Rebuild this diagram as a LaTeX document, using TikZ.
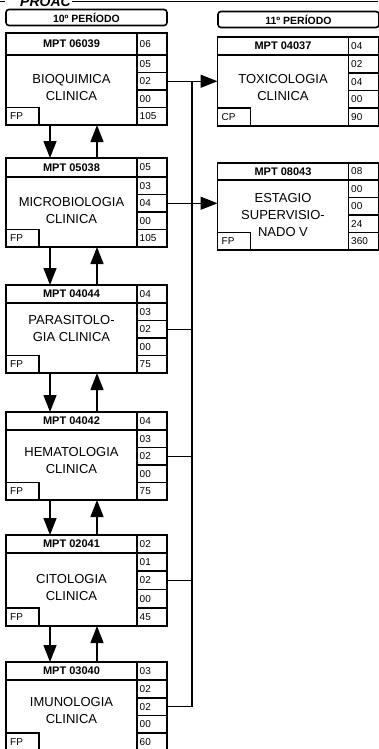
\documentclass[tikz,border=0pt]{standalone}
\usepackage{fontspec}
\setmainfont{Liberation Sans}
\usetikzlibrary{arrows.meta}
\tikzset{
 box/.style={draw, line width=1.6pt, inner sep=0pt, outer sep=0pt},
 boxline/.style={line width=1.6pt},
 conn/.style={line width=1.4pt},
 arr/.style={conn, -{Triangle[length=17pt,width=13pt]}},
 codetxt/.style={font=\bfseries\fontsize{11}{12}\selectfont, inner sep=0pt},
 numtxt/.style={font=\fontsize{10}{11}\selectfont, inner sep=0pt, anchor=west},
 titletxt/.style={font=\fontsize{13}{17}\selectfont, align=center, inner sep=0pt},
 phead/.style={draw, line width=1.6pt, rounded corners=3pt, minimum width=161pt, minimum height=16pt, inner sep=0pt, font=\bfseries\fontsize{10.5}{12}\selectfont},
}
% #1 name, #2 left x, #3 top, #4 bottom, #5 header height, #6 code, #7 cells, #8 fp label
\newcommand\course[8]{%
  \pgfmathsetmacro\crsT{#3}%
  \pgfmathsetmacro\crsB{#4}%
  \pgfmathsetmacro\crsH{#3+#5}%
  \pgfmathsetmacro\crsR{(#4-#3-#5)/4}%
  \pgfmathsetmacro\crsX{#2}%
  \pgfmathsetmacro\crsC{#2+131}%
  \pgfmathsetmacro\crsE{#2+161}%
  \pgfmathsetmacro\crsHt{#4-#3}%
  \node[box, minimum width=161pt, minimum height=\crsHt pt, anchor=north west] (#1) at (#2,#3) {};
  \draw[boxline] (\crsX,\crsH) -- (\crsE,\crsH);
  \draw[boxline] (\crsC,\crsT) -- (\crsC,\crsB);
  \foreach \k in {1,2,3} {\draw[boxline] (\crsC,{\crsH+\k*\crsR}) -- (\crsE,{\crsH+\k*\crsR});}
  \node[box, anchor=south west, minimum width=33pt, minimum height=\crsR pt] (#1-fp) at (\crsX,\crsB) {};
  \node[numtxt] (#1-fpt) at ({\crsX+4},{\crsB-\crsR/2}) {#8};
  \node[codetxt] (#1-code) at ({(\crsX+\crsC)/2},{(\crsT+\crsH)/2}) {#6};
  \foreach \v [count=\i] in {#7} {%
    \pgfmathsetmacro\crsY{\i==1 ? (\crsT+\crsH)/2 : \crsH+(\i-1.5)*\crsR}%
    \node[numtxt] (#1-c\i) at ({\crsC+2.5},\crsY) {\v};}
  \coordinate (#1-ds) at ({\crsX+44},\crsB);
  \coordinate (#1-de) at ({\crsX+44},\crsT);
  \coordinate (#1-us) at ({\crsX+91},\crsT);
  \coordinate (#1-ue) at ({\crsX+91},\crsB);
  \coordinate (#1-out) at (\crsE,{\crsH+1.5*\crsR});
}
\begin{document}
\begin{tikzpicture}[x=1pt,y=-1pt]
\useasboundingbox (0,0) rectangle (378,749);
% top title line
\node[font=\bfseries\itshape\fontsize{14}{14}\selectfont, anchor=base west, inner sep=1pt] (proac) at (19,7) {PROAC};
\coordinate (tla) at (0,1.8);
\coordinate (tlb) at (5,1.8);
\coordinate (tlr) at (378,1.8);
\draw[conn] (tla) -- (tlb);
\draw[conn] (proac.east |- tlr) -- (tlr);
% period headers
\node[phead] (p10) at (86.5,17.5) {10º PERÍODO};
\node[phead] (p11) at (298.5,19.5) {11º PERÍODO};
% left column
\course{b1}{6}{33}{125}{22}{MPT 06039}{06,05,02,00,105}{FP}
\course{b2}{6}{158}{247}{19}{MPT 05038}{05,03,04,00,105}{FP}
\course{b3}{6}{285}{373}{18}{MPT 04044}{04,03,02,00,75}{FP}
\course{b4}{6}{412}{500}{18}{MPT 04042}{04,03,02,00,75}{FP}
\course{b5}{6}{535}{626}{18}{MPT 02041}{02,01,02,00,45}{FP}
\course{b6}{6}{662}{751}{18}{MPT 03040}{03,02,02,00,60}{FP}
% right column
\course{tox}{217.5}{37}{126}{18}{MPT 04037}{04,02,04,00,90}{CP}
\course{est}{217.5}{163}{250}{17}{MPT 08043}{08,00,00,24,360}{FP}
% titles
\node[titletxt] (t1) at (71.5,87.5) {BIOQUIMICA\\CLINICA};
\node[titletxt] (t2) at (71.5,210.5) {MICROBIOLOGIA\\CLINICA};
\node[titletxt] (t3) at (71.5,328.5) {PARASITOLO-\\GIA CLINICA};
\node[titletxt] (t4) at (71.5,461) {HEMATOLOGIA\\CLINICA};
\node[titletxt] (t5) at (71.5,588) {CITOLOGIA\\CLINICA};
\node[titletxt] (t6) at (71.5,711) {IMUNOLOGIA\\CLINICA};
\node[titletxt] (ttox) at (283,87.5) {TOXICOLOGIA\\CLINICA};
\node[titletxt] (test) at (283,215) {ESTAGIO\\SUPERVISIO-\\NADO V};
% vertical arrows between boxes
\foreach \a/\b in {b1/b2,b2/b3,b3/b4,b4/b5,b5/b6} {
  \draw[arr] (\a-ds) -- (\b-de);
  \draw[arr] (\b-us) -- (\a-ue);
}
% bus
\coordinate (bus) at (192,0);
\draw[conn] (b1-out -| bus) -- (b6-out -| bus);
\draw[arr] (b1-out) -- (b1-out -| tox.west);
\draw[arr] (b2-out) -- (b2-out -| est.west);
\foreach \a in {b3,b4,b5,b6} {\draw[conn] (\a-out) -- (\a-out -| bus);}
\end{tikzpicture}
\end{document}
